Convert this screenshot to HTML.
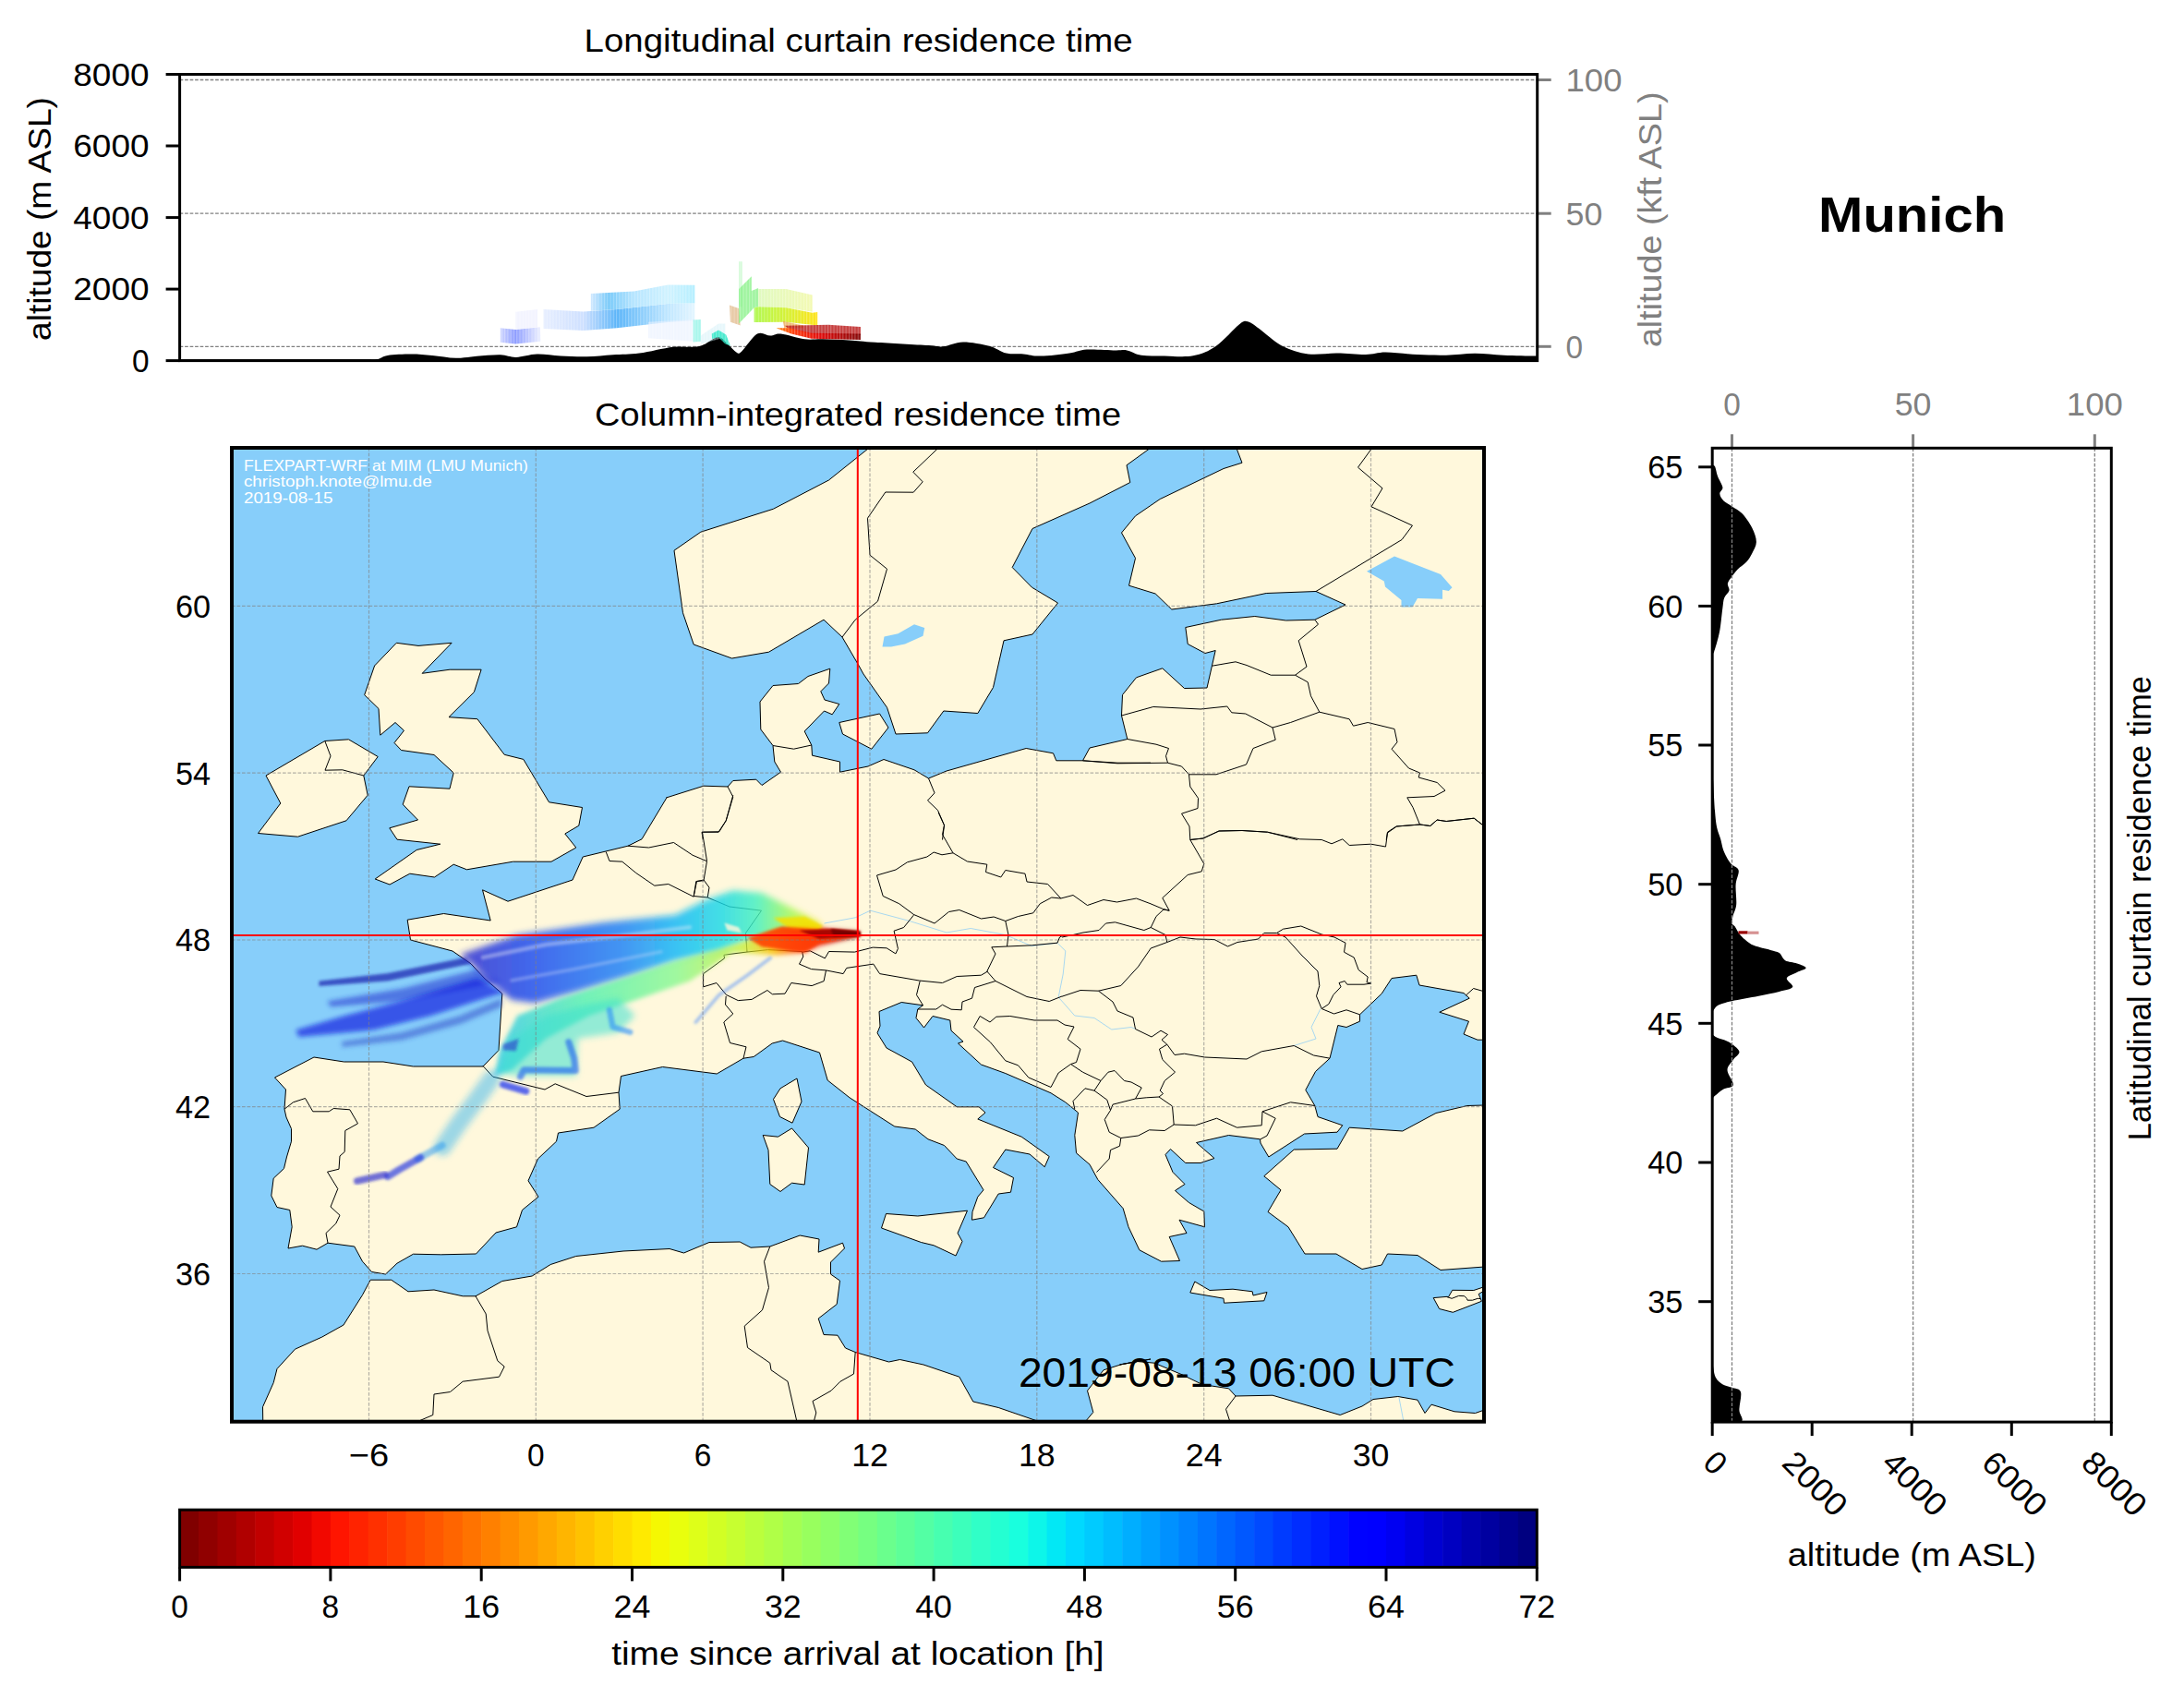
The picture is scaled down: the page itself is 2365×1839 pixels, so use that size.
<!DOCTYPE html>
<html><head><meta charset="utf-8"><style>
html,body{margin:0;padding:0;background:#fff;}
svg{display:block;font-family:"Liberation Sans", sans-serif;}
</style></head><body>
<svg width="2365" height="1839" viewBox="0 0 2365 1839" font-family='"Liberation Sans", sans-serif'>
<rect width="2365" height="1839" fill="#fff"/>
<text x="929.6" y="56.2" font-size="35.3" text-anchor="middle" fill="#000" textLength="594.0" lengthAdjust="spacingAndGlyphs" >Longitudinal curtain residence time</text>
<line x1="194.6" y1="86.5" x2="1664.7" y2="86.5" stroke="#808080" stroke-width="1.3" stroke-dasharray="3.7 1.8"/>
<line x1="194.6" y1="231.2" x2="1664.7" y2="231.2" stroke="#808080" stroke-width="1.3" stroke-dasharray="3.7 1.8"/>
<line x1="194.6" y1="375.3" x2="1664.7" y2="375.3" stroke="#808080" stroke-width="1.3" stroke-dasharray="3.7 1.8"/>
<path d="M194.6 389.5 C225.5 389.4 344.6 389.2 380.0 389.2 C415.4 389.1 400.4 389.9 407.0 389.2 C413.6 388.5 413.3 385.8 419.7 384.9 C426.1 383.9 437.2 383.5 445.3 383.5 C453.4 383.5 459.9 384.2 468.0 384.9 C476.1 385.6 485.6 387.5 493.6 387.7 C501.7 387.9 508.3 386.4 516.3 385.8 C524.3 385.2 534.7 384.1 541.8 384.3 C548.9 384.5 552.2 387.0 558.8 386.9 C565.4 386.8 573.5 383.7 581.6 383.5 C589.7 383.3 598.1 385.0 607.1 385.5 C616.1 386.0 626.0 386.5 635.5 386.3 C645.0 386.1 654.4 384.9 663.9 384.3 C673.4 383.7 681.4 384.0 692.3 382.6 C703.2 381.2 718.3 377.1 729.2 375.8 C740.1 374.5 749.6 376.8 757.6 375.0 C765.6 373.2 772.2 365.2 777.4 365.0 C782.6 364.8 785.5 370.9 788.8 373.6 C792.1 376.4 794.9 380.3 797.3 381.5 C799.7 382.7 799.2 384.0 803.0 380.7 C806.8 377.4 814.8 364.5 820.0 361.6 C825.2 358.8 829.9 363.6 834.2 363.6 C838.5 363.6 839.5 361.0 845.6 361.6 C851.8 362.2 863.5 366.4 871.1 367.3 C878.7 368.2 883.0 367.1 891.0 367.3 C899.0 367.5 909.9 367.8 919.4 368.4 C928.9 369.0 933.4 369.8 947.8 370.7 C962.2 371.6 993.4 373.3 1005.6 374.1 C1017.8 374.9 1014.9 375.9 1021.1 375.3 C1027.3 374.7 1034.6 370.5 1042.9 370.4 C1051.2 370.3 1063.2 372.7 1071.0 374.7 C1078.8 376.7 1083.4 381.1 1089.6 382.5 C1095.8 383.9 1102.1 382.9 1108.3 383.4 C1114.5 383.9 1118.7 385.8 1127.0 385.6 C1135.3 385.5 1149.8 383.7 1158.1 382.5 C1166.4 381.3 1168.5 379.0 1176.8 378.5 C1185.1 378.0 1200.6 379.2 1207.9 379.4 C1215.2 379.5 1215.7 378.5 1220.4 379.4 C1225.1 380.3 1229.2 383.7 1236.0 384.7 C1242.8 385.7 1251.6 385.5 1260.9 385.6 C1270.2 385.7 1282.7 387.1 1292.0 385.3 C1301.3 383.5 1308.6 380.4 1316.9 374.7 C1325.2 369.0 1336.1 355.8 1341.8 351.4 C1347.5 347.0 1347.6 347.5 1351.2 348.3 C1354.8 349.1 1357.4 351.6 1363.6 356.0 C1369.8 360.4 1379.7 370.1 1388.5 374.7 C1397.3 379.3 1406.7 382.1 1416.6 383.4 C1426.5 384.7 1437.3 382.4 1447.7 382.5 C1458.1 382.6 1470.0 384.2 1478.8 384.1 C1487.6 384.0 1491.2 381.6 1500.6 381.6 C1509.9 381.6 1524.0 383.6 1534.9 384.1 C1545.8 384.6 1555.6 384.9 1566.0 384.7 C1576.4 384.5 1586.7 382.8 1597.1 382.8 C1607.5 382.8 1617.4 384.2 1628.3 384.7 C1639.2 385.2 1656.4 385.5 1662.5 385.6 C1668.6 385.7 1664.3 385.5 1664.7 385.5 L1664.7 391.6 L194.6 391.6 Z" fill="#000"/>
<defs><linearGradient id="tpBlue" gradientUnits="userSpaceOnUse" x1="541.8" y1="0" x2="584.9" y2="0"><stop offset="0.000" stop-color="#c8d0ff"/><stop offset="0.383" stop-color="#7a8cff"/><stop offset="1.000" stop-color="#e8ecff"/></linearGradient></defs>
<defs><linearGradient id="tpLB" gradientUnits="userSpaceOnUse" x1="588.5" y1="0" x2="752.5" y2="0"><stop offset="0.000" stop-color="#e4ecff"/><stop offset="0.263" stop-color="#c8dcff"/><stop offset="0.486" stop-color="#48acf8"/><stop offset="0.821" stop-color="#b8e4ff"/><stop offset="1.000" stop-color="#e0f4ff"/></linearGradient></defs>
<defs><linearGradient id="tpCy" gradientUnits="userSpaceOnUse" x1="639.8" y1="0" x2="752.5" y2="0"><stop offset="0.000" stop-color="#c8e4ff"/><stop offset="0.171" stop-color="#60c0f8"/><stop offset="0.415" stop-color="#a8e0ff"/><stop offset="0.740" stop-color="#c8f0ff"/><stop offset="1.000" stop-color="#a8ecff"/></linearGradient></defs>
<defs><linearGradient id="tpYG1" gradientUnits="userSpaceOnUse" x1="821.1" y1="0" x2="879.7" y2="0"><stop offset="0.000" stop-color="#d8f8b0"/><stop offset="1.000" stop-color="#f0f8a0"/></linearGradient></defs>
<defs><linearGradient id="tpYG2" gradientUnits="userSpaceOnUse" x1="816.6" y1="0" x2="885.2" y2="0"><stop offset="0.000" stop-color="#a8f840"/><stop offset="0.507" stop-color="#d0f020"/><stop offset="1.000" stop-color="#ffe000"/></linearGradient></defs>
<defs><linearGradient id="tpRed" gradientUnits="userSpaceOnUse" x1="840.4" y1="0" x2="931.9" y2="0"><stop offset="0.000" stop-color="#ff8000"/><stop offset="0.220" stop-color="#ff3000"/><stop offset="0.520" stop-color="#e00000"/><stop offset="1.000" stop-color="#800000"/></linearGradient></defs>
<defs><pattern id="bars" patternUnits="userSpaceOnUse" width="3.27" height="20" x="0" y="0"><rect x="0" y="0" width="3.27" height="20" fill="#fff"/><rect x="0" y="0" width="1.1" height="20" fill="#000" fill-opacity="0.28"/></pattern><mask id="barmask" maskUnits="userSpaceOnUse" x="500" y="260" width="480" height="140"><rect x="500" y="260" width="480" height="140" fill="url(#bars)"/></mask></defs>
<g mask="url(#barmask)">
<path d="M541.8 355.2 L558.3 357.0 L584.9 354.2 L585.4 369.8 L558.3 372.6 L541.8 370.7 Z" fill="url(#tpBlue)" fill-opacity="0.85"/>
<path d="M558.3 337.8 L582.1 335.0 L582.1 354.2 L558.3 357.0 Z" fill="#eef0ff" fill-opacity="0.7"/>
<path d="M588.5 335.0 L631.6 337.4 L668.2 335.0 L723.2 329.0 L752.5 328.2 L752.5 346.9 L723.2 349.1 L668.2 355.2 L631.6 357.9 L588.5 356.1 Z" fill="url(#tpLB)" fill-opacity="0.9"/>
<path d="M639.8 318.0 L686.5 315.4 L723.2 308.5 L752.5 308.8 L752.5 328.2 L723.2 329.0 L668.2 335.0 L639.8 336.8 Z" fill="url(#tpCy)" fill-opacity="0.85"/>
<path d="M702.1 348.8 L750.6 346.0 L750.6 369.8 L702.1 366.2 Z" fill="#e8f0ff" fill-opacity="0.6"/>
<path d="M750.6 346.6 L758.9 346.0 L758.9 369.8 L750.6 370.4 Z" fill="#70f0e0" fill-opacity="0.6"/>
<path d="M758.9 363.4 L778.1 350.6 L785.4 350.6 L785.4 365.2 L758.9 372.6 Z" fill="#d0f0f8" fill-opacity="0.5"/>
<path d="M770.8 361.6 L778.1 357.5 L786.3 362.5 L790.9 374.4 L785.4 372.6 L778.1 365.2 L771.1 367.1 Z" fill="#30e8c8" fill-opacity="0.85"/>
<path d="M800.1 283.2 L803.7 283.2 L803.7 332.3 L800.1 332.3 Z" fill="#c0f8c8" fill-opacity="0.7"/>
<path d="M790.0 330.4 L800.1 334.1 L801.9 352.4 L790.9 348.8 Z" fill="#e0b888" fill-opacity="0.75"/>
<path d="M800.1 313.0 L813.8 299.3 L813.8 314.9 L821.1 312.1 L821.1 332.3 L816.6 333.2 L800.1 350.6 L800.1 332.3 Z" fill="#80f080" fill-opacity="0.75"/>
<path d="M821.1 313.0 L851.4 313.0 L879.7 319.5 L879.7 337.8 L851.4 333.2 L821.1 332.3 Z" fill="url(#tpYG1)" fill-opacity="0.8"/>
<path d="M816.6 333.2 L821.1 332.3 L851.4 333.2 L879.7 338.7 L885.2 338.1 L885.2 352.4 L851.4 348.8 L816.6 349.1 Z" fill="url(#tpYG2)" fill-opacity="0.9"/>
<path d="M847.7 347.8 L869.7 352.4 L869.7 355.2 L849.5 356.1 Z" fill="#e8a040" fill-opacity="0.7"/>
<path d="M849.5 352.8 L897.1 351.7 L931.9 353.9 L931.9 363.0 L878.8 362.1 L855.0 356.4 Z" fill="#b81010" fill-opacity="0.8"/>
<path d="M840.4 355.2 L855.0 355.3 L878.8 360.8 L931.9 361.6 L931.9 368.0 L878.8 366.7 L856.8 361.6 Z" fill="url(#tpRed)" fill-opacity="0.95"/>
</g>
<line x1="179.6" y1="390.6" x2="194.6" y2="390.6" stroke="#000" stroke-width="3"/>
<text x="161.5" y="402.9" font-size="35.3" text-anchor="end" fill="#000" textLength="18.6" lengthAdjust="spacingAndGlyphs" >0</text>
<line x1="179.6" y1="313.1" x2="194.6" y2="313.1" stroke="#000" stroke-width="3"/>
<text x="161.5" y="325.4" font-size="35.3" text-anchor="end" fill="#000" textLength="82.2" lengthAdjust="spacingAndGlyphs" >2000</text>
<line x1="179.6" y1="235.6" x2="194.6" y2="235.6" stroke="#000" stroke-width="3"/>
<text x="161.5" y="247.9" font-size="35.3" text-anchor="end" fill="#000" textLength="82.2" lengthAdjust="spacingAndGlyphs" >4000</text>
<line x1="179.6" y1="158.0" x2="194.6" y2="158.0" stroke="#000" stroke-width="3"/>
<text x="161.5" y="170.3" font-size="35.3" text-anchor="end" fill="#000" textLength="82.2" lengthAdjust="spacingAndGlyphs" >6000</text>
<line x1="179.6" y1="80.5" x2="194.6" y2="80.5" stroke="#000" stroke-width="3"/>
<text x="161.5" y="92.8" font-size="35.3" text-anchor="end" fill="#000" textLength="82.2" lengthAdjust="spacingAndGlyphs" >8000</text>
<line x1="1664.7" y1="375.3" x2="1679.7" y2="375.3" stroke="#808080" stroke-width="3"/>
<text x="1695.5" y="387.6" font-size="35.3" text-anchor="start" fill="#808080" textLength="18.6" lengthAdjust="spacingAndGlyphs" >0</text>
<line x1="1664.7" y1="231.2" x2="1679.7" y2="231.2" stroke="#808080" stroke-width="3"/>
<text x="1695.5" y="243.5" font-size="35.3" text-anchor="start" fill="#808080" textLength="39.8" lengthAdjust="spacingAndGlyphs" >50</text>
<line x1="1664.7" y1="86.5" x2="1679.7" y2="86.5" stroke="#808080" stroke-width="3"/>
<text x="1695.5" y="98.8" font-size="35.3" text-anchor="start" fill="#808080" textLength="61.0" lengthAdjust="spacingAndGlyphs" >100</text>
<rect x="194.6" y="80.5" width="1470.1" height="310.1" fill="none" stroke="#000" stroke-width="3"/>
<text x="55.3" y="237.0" font-size="35.3" text-anchor="middle" fill="#000" textLength="263.8" lengthAdjust="spacingAndGlyphs" transform="rotate(-90 55.3 237.0)" >altitude (m ASL)</text>
<text x="1799.0" y="237.8" font-size="35.3" text-anchor="middle" fill="#808080" textLength="276.6" lengthAdjust="spacingAndGlyphs" transform="rotate(-90 1799.0 237.8)" >altitude (kft ASL)</text>
<text x="2070.6" y="250.9" font-size="52.8" text-anchor="middle" fill="#000" font-weight="bold" textLength="203.0" lengthAdjust="spacingAndGlyphs" >Munich</text>
<text x="929.1" y="461.2" font-size="35.3" text-anchor="middle" fill="#000" textLength="570.0" lengthAdjust="spacingAndGlyphs" >Column-integrated residence time</text>
<defs><clipPath id="mapclip"><rect x="251.0" y="485.0" width="1356.0" height="1054.7"/></clipPath></defs>
<g clip-path="url(#mapclip)">
<rect x="251.0" y="485.0" width="1356.0" height="1054.7" fill="#87cefa"/>
<path d="M351.8 802.5 L377.5 800.8 L409.2 819.5 L393.8 840.0 L398.2 861.2 L375.0 888.8 L322.5 906.2 L279.5 902.5 L303.8 870.0 L288.0 840.0 Z" fill="#fff8dc" stroke="#000" stroke-width="1.0" stroke-linejoin="round"/>
<path d="M429.3 696.3 L453.0 699.4 L489.1 696.3 L457.2 729.3 L487.1 725.2 L521.1 725.2 L513.4 749.5 L486.0 776.7 L516.9 778.7 L546.2 817.3 L566.8 822.4 L594.5 868.8 L630.5 874.5 L626.8 894.2 L611.8 903.0 L623.8 918.0 L597.0 933.2 L555.5 933.2 L505.5 941.8 L491.2 936.2 L470.5 950.0 L443.8 946.2 L422.0 958.0 L406.2 952.0 L451.2 920.5 L476.8 914.2 L430.0 909.2 L421.8 896.8 L452.5 888.0 L436.2 871.2 L443.0 851.8 L487.0 854.2 L491.2 837.0 L470.0 817.5 L434.5 812.5 L427.0 804.5 L437.5 791.2 L428.0 782.5 L411.8 796.2 L410.0 767.5 L394.7 752.6 L405.6 721.0 Z" fill="#fff8dc" stroke="#000" stroke-width="1.0" stroke-linejoin="round"/>
<path d="M908.8 782.5 L952.5 773.0 L962.0 788.0 L943.8 811.2 L912.5 795.0 Z" fill="#fff8dc" stroke="#000" stroke-width="1.0" stroke-linejoin="round"/>
<path d="M863.0 1168.0 L868.0 1193.0 L858.0 1216.2 L844.5 1209.5 L837.5 1190.5 L845.0 1178.8 Z" fill="#fff8dc" stroke="#000" stroke-width="1.0" stroke-linejoin="round"/>
<path d="M857.5 1222.0 L875.5 1243.0 L871.2 1283.0 L857.5 1281.2 L845.0 1290.5 L833.8 1282.5 L832.0 1245.5 L826.2 1229.5 L842.5 1231.2 Z" fill="#fff8dc" stroke="#000" stroke-width="1.0" stroke-linejoin="round"/>
<path d="M959.5 1314.5 L993.8 1317.0 L1047.5 1311.2 L1037.0 1335.5 L1042.0 1344.5 L1035.0 1360.0 L1011.2 1348.8 L997.5 1345.5 L954.5 1330.0 Z" fill="#fff8dc" stroke="#000" stroke-width="1.0" stroke-linejoin="round"/>
<path d="M1293.8 1388.0 L1310.0 1397.5 L1335.0 1396.2 L1356.2 1398.8 L1357.0 1403.0 L1372.0 1399.5 L1368.8 1408.8 L1325.5 1411.2 L1325.0 1406.2 L1288.8 1400.0 Z" fill="#fff8dc" stroke="#000" stroke-width="1.0" stroke-linejoin="round"/>
<path d="M1552.2 1405.6 L1566.3 1404.4 L1568.5 1404.7 L1572.7 1397.3 L1595.8 1397.5 L1605.1 1394.4 L1607.3 1393.8 L1607.3 1399.2 L1605.1 1399.2 L1601.2 1401.5 L1603.3 1406.6 L1604.4 1409.3 L1573.3 1421.3 L1558.6 1417.5 Z" fill="#fff8dc" stroke="#000" stroke-width="1.0" stroke-linejoin="round"/>
<path d="M941.2 480.0 L941.2 485.0 L897.5 520.0 L837.5 551.2 L758.8 576.2 L730.0 596.2 L739.5 663.8 L751.2 698.0 L792.5 713.0 L832.5 706.2 L892.0 671.2 L912.0 690.0 L928.8 718.8 L935.0 730.0 L960.5 766.2 L970.0 795.0 L1004.5 793.8 L1021.8 770.0 L1058.8 772.5 L1075.5 744.5 L1087.0 693.8 L1118.0 687.0 L1145.5 653.0 L1117.5 636.2 L1096.2 614.5 L1118.0 572.5 L1180.0 545.0 L1223.8 522.5 L1220.0 503.8 L1246.0 485.0 L1246.0 480.0 Z" fill="#fff8dc" stroke="#000" stroke-width="1.0" stroke-linejoin="round"/>
<path d="M1607.5 1197.0 L1588.8 1197.5 L1555.0 1205.5 L1518.8 1225.0 L1461.2 1221.2 L1448.0 1244.2 L1401.2 1245.0 L1368.8 1273.8 L1387.0 1288.8 L1373.0 1312.5 L1395.0 1328.8 L1413.0 1358.0 L1447.0 1358.0 L1475.0 1374.5 L1496.2 1370.0 L1502.5 1358.0 L1535.0 1359.5 L1560.0 1375.5 L1607.5 1372.0 L1625.0 1372.0 L1625.0 1250.0 Z" fill="#fff8dc" stroke="#000" stroke-width="1.0" stroke-linejoin="round"/>
<path d="M285.0 1555.0 L284.5 1523.8 L296.2 1497.5 L300.0 1482.5 L319.5 1461.2 L348.8 1448.0 L372.0 1435.0 L392.5 1402.5 L401.2 1386.2 L423.8 1386.2 L442.0 1398.8 L470.0 1397.0 L501.2 1403.8 L515.0 1403.8 L543.8 1387.5 L576.2 1382.0 L596.2 1369.5 L623.8 1360.5 L675.0 1355.0 L725.0 1352.5 L740.5 1357.0 L768.0 1345.5 L801.2 1345.0 L813.0 1351.2 L833.8 1350.0 L866.2 1338.0 L887.0 1342.0 L886.2 1356.2 L912.5 1346.2 L914.5 1352.0 L899.5 1367.0 L899.5 1380.0 L909.5 1387.0 L906.2 1412.5 L886.2 1428.0 L892.0 1445.5 L907.0 1446.2 L915.5 1460.0 L926.2 1464.5 L962.5 1475.0 L974.5 1472.5 L1000.0 1478.0 L1038.8 1491.2 L1053.8 1518.0 L1081.2 1524.5 L1126.2 1540.0 L1175.0 1540.0 L1183.8 1529.5 L1177.5 1506.2 L1195.0 1483.8 L1215.0 1477.5 L1246.0 1472.0 L1212.5 1478.0 L1231.2 1474.5 L1250.0 1476.2 L1280.0 1488.8 L1302.0 1499.5 L1330.5 1503.8 L1338.0 1512.0 L1378.0 1511.2 L1451.2 1532.5 L1475.0 1523.0 L1487.0 1515.5 L1513.8 1512.5 L1535.0 1516.2 L1543.0 1530.5 L1550.0 1521.2 L1575.0 1528.8 L1597.5 1530.5 L1607.5 1527.0 L1625.0 1527.0 L1625.0 1555.0 Z" fill="#fff8dc" stroke="#000" stroke-width="1.0" stroke-linejoin="round"/>
<path d="M1650.0 435.0 L1338.8 480.0 L1338.8 485.0 L1345.0 501.2 L1325.0 507.5 L1256.2 540.5 L1229.5 558.8 L1214.5 577.0 L1229.5 604.5 L1222.5 634.2 L1251.2 643.0 L1268.8 660.0 L1317.5 653.8 L1371.2 642.5 L1425.0 640.5 L1457.0 655.0 L1423.8 671.2 L1392.5 672.0 L1358.8 667.5 L1322.5 671.2 L1283.8 679.5 L1286.2 697.5 L1305.0 707.5 L1316.2 704.5 L1307.0 745.0 L1282.5 745.5 L1258.8 723.8 L1230.5 733.8 L1215.5 752.5 L1214.5 775.0 L1220.8 800.5 L1180.0 810.0 L1172.5 823.8 L1143.8 823.8 L1140.5 815.8 L1111.2 810.5 L1025.0 835.0 L1005.5 843.0 L990.0 833.8 L957.0 822.5 L940.0 830.0 L909.5 836.2 L909.5 825.0 L879.5 818.2 L878.8 807.0 L871.2 792.0 L892.5 770.0 L901.2 773.8 L908.8 762.5 L893.0 758.0 L888.8 748.8 L897.5 740.0 L898.8 724.2 L875.0 732.5 L864.5 740.5 L837.0 742.5 L823.0 760.0 L823.8 790.0 L837.0 807.5 L838.8 825.0 L845.5 836.2 L825.0 850.5 L818.8 844.2 L793.8 845.5 L788.0 852.0 L762.0 851.2 L722.0 863.8 L722.5 863.0 L695.0 908.8 L680.0 916.2 L631.2 928.0 L620.0 953.0 L550.0 976.2 L522.5 963.8 L531.2 997.0 L480.5 989.5 L441.2 996.2 L444.5 1018.0 L490.0 1030.0 L510.0 1043.8 L525.0 1060.0 L543.8 1076.2 L540.0 1137.5 L523.0 1155.0 L447.5 1155.0 L415.0 1150.0 L372.5 1150.0 L340.0 1145.0 L297.5 1167.0 L309.5 1180.0 L308.0 1201.2 L310.0 1210.0 L315.5 1222.5 L315.5 1236.2 L310.5 1253.0 L307.5 1265.5 L296.2 1276.2 L293.8 1295.0 L300.0 1307.5 L313.8 1310.5 L316.2 1328.8 L312.0 1352.0 L327.5 1349.2 L343.0 1353.2 L355.0 1346.2 L383.8 1350.0 L392.5 1366.2 L402.5 1377.5 L417.5 1380.0 L430.0 1368.2 L447.5 1358.2 L477.5 1358.8 L515.5 1358.0 L537.0 1335.0 L559.5 1328.8 L565.5 1310.5 L583.0 1296.2 L572.0 1278.8 L582.5 1255.0 L602.5 1236.2 L604.5 1227.0 L643.0 1221.2 L671.2 1201.2 L670.0 1183.2 L672.5 1165.5 L717.5 1155.5 L776.2 1163.0 L805.0 1146.2 L816.2 1144.5 L836.2 1130.0 L847.5 1127.0 L887.5 1140.0 L896.2 1170.0 L920.0 1188.8 L968.8 1220.0 L991.2 1223.0 L1005.0 1233.8 L1022.5 1240.5 L1036.2 1255.0 L1046.2 1258.0 L1065.0 1288.8 L1058.8 1296.2 L1053.0 1312.5 L1052.5 1321.2 L1065.5 1318.8 L1081.2 1293.0 L1094.5 1291.2 L1097.5 1275.5 L1075.5 1264.5 L1088.8 1245.0 L1115.0 1250.0 L1131.2 1263.8 L1136.2 1252.5 L1106.2 1231.2 L1058.8 1212.0 L1067.0 1205.0 L1060.0 1198.8 L1036.2 1198.8 L1002.5 1175.0 L987.5 1150.0 L960.0 1135.0 L950.0 1118.8 L953.0 1111.2 L952.0 1095.5 L976.2 1085.5 L999.5 1088.8 L993.8 1093.0 L992.0 1102.5 L1000.5 1113.0 L1010.0 1100.5 L1028.8 1105.0 L1030.0 1116.2 L1043.0 1128.0 L1037.5 1130.0 L1062.5 1153.0 L1088.8 1162.5 L1138.0 1183.8 L1153.8 1193.8 L1167.5 1205.0 L1163.8 1229.5 L1165.5 1248.8 L1180.0 1261.2 L1188.8 1277.5 L1216.2 1308.8 L1222.0 1328.8 L1233.8 1353.8 L1257.5 1366.2 L1277.5 1365.5 L1266.2 1339.5 L1285.0 1335.5 L1277.0 1321.2 L1304.5 1328.8 L1303.8 1312.0 L1287.5 1302.5 L1272.5 1289.5 L1283.0 1282.5 L1270.0 1269.5 L1262.0 1250.5 L1267.5 1244.5 L1283.8 1259.5 L1300.0 1259.5 L1315.0 1254.5 L1295.5 1237.5 L1330.5 1229.5 L1364.5 1233.8 L1365.0 1238.0 L1373.8 1253.0 L1412.5 1228.0 L1448.0 1226.2 L1453.8 1218.8 L1427.0 1209.5 L1423.8 1197.5 L1413.8 1180.5 L1424.5 1160.5 L1440.0 1146.2 L1448.8 1110.5 L1458.0 1112.5 L1472.5 1106.2 L1472.5 1098.8 L1496.2 1076.2 L1507.0 1059.5 L1533.8 1056.2 L1537.0 1067.0 L1585.0 1075.5 L1591.2 1081.2 L1558.8 1096.2 L1590.5 1106.2 L1585.0 1120.0 L1600.0 1126.2 L1607.5 1126.2 L1650.0 1126.2 Z" fill="#fff8dc" stroke="#000" stroke-width="1.0" stroke-linejoin="round"/>
<path d="M957.5 689.5 L972.5 686.2 L990.0 676.2 L1001.2 680.0 L999.5 688.8 L980.0 697.5 L965.0 700.5 L955.5 700.5 Z" fill="#87cefa" stroke="none"/>
<path d="M1480.0 618.8 L1510.0 602.5 L1560.0 622.0 L1572.5 636.2 L1568.8 640.0 L1562.0 638.8 L1562.0 648.8 L1535.0 648.0 L1529.5 657.5 L1517.5 657.5 L1517.5 650.0 L1500.0 635.5 L1498.8 629.5 Z" fill="#87cefa" stroke="none"/>
<path d="M892.5 1000.0 L926.2 993.8 L942.5 986.2 L985.0 997.5 L1025.0 1010.0 L1051.2 1005.5 L1088.8 1012.5 L1117.0 1024.5 L1145.0 1021.2 L1153.8 1030.0 L1151.2 1055.0 L1146.2 1080.0 L1163.8 1100.0" fill="none" stroke="#a9d8f0" stroke-width="1"/>
<path d="M1401.2 1132.5 L1425.0 1125.0 L1420.0 1112.5 L1430.0 1092.5" fill="none" stroke="#a9d8f0" stroke-width="1"/>
<path d="M1163.8 1100.0 L1185.0 1102.5 L1203.8 1115.0 L1225.0 1112.5 L1229.5 1114.5" fill="none" stroke="#a9d8f0" stroke-width="1"/>
<path d="M1515.0 1513.8 L1520.0 1540.0" fill="none" stroke="#a9d8f0" stroke-width="1"/>
<path d="M351.8 802.5 L358.0 818.8 L352.0 834.2 L370.8 833.8 L393.8 840.0" fill="none" stroke="#000" stroke-width="1.0" stroke-linejoin="round"/>
<path d="M1015.0 486.2 L988.8 511.2 L999.2 521.8 L989.2 533.2 L958.8 533.0 L939.5 561.2 L942.0 601.2 L960.5 616.2 L950.5 651.2 L926.2 671.2 L912.0 690.0" fill="none" stroke="#000" stroke-width="1.0" stroke-linejoin="round"/>
<path d="M837.0 807.5 L859.5 811.2 L878.8 807.0" fill="none" stroke="#000" stroke-width="1.0" stroke-linejoin="round"/>
<path d="M1005.5 843.0 L1012.0 858.8 L1004.5 867.0 L1015.5 877.5 L1022.5 893.8 L1020.5 909.5" fill="none" stroke="#000" stroke-width="1.0" stroke-linejoin="round"/>
<path d="M1172.5 823.8 L1210.0 826.2 L1246.0 826.2" fill="none" stroke="#000" stroke-width="1.0" stroke-linejoin="round"/>
<path d="M788.0 852.0 L793.8 863.0 L786.2 888.8 L778.8 900.8 L760.0 901.2 L761.2 909.5" fill="none" stroke="#000" stroke-width="1.0" stroke-linejoin="round"/>
<path d="M1485.0 486.2 L1470.5 506.2 L1497.0 528.8 L1485.0 548.8 L1529.5 569.2 L1518.0 584.5 L1425.0 640.5" fill="none" stroke="#000" stroke-width="1.0" stroke-linejoin="round"/>
<path d="M1423.8 671.2 L1427.5 676.2 L1406.2 693.8 L1415.0 722.0 L1402.5 731.2" fill="none" stroke="#000" stroke-width="1.0" stroke-linejoin="round"/>
<path d="M1312.5 721.2 L1338.0 716.8 L1350.0 720.5 L1376.2 731.2 L1402.5 731.2" fill="none" stroke="#000" stroke-width="1.0" stroke-linejoin="round"/>
<path d="M1402.5 731.2 L1416.2 738.8 L1419.5 753.8 L1428.8 771.2" fill="none" stroke="#000" stroke-width="1.0" stroke-linejoin="round"/>
<path d="M1214.5 775.0 L1248.8 765.5 L1300.0 768.0 L1328.8 765.0 L1333.8 771.8 L1348.8 773.0 L1378.0 788.0" fill="none" stroke="#000" stroke-width="1.0" stroke-linejoin="round"/>
<path d="M1378.0 788.0 L1397.5 782.5 L1428.8 771.2" fill="none" stroke="#000" stroke-width="1.0" stroke-linejoin="round"/>
<path d="M1378.0 788.0 L1381.2 801.2 L1357.0 810.5 L1349.5 828.0 L1317.0 838.8 L1287.5 838.8" fill="none" stroke="#000" stroke-width="1.0" stroke-linejoin="round"/>
<path d="M1220.8 800.5 L1252.0 806.2 L1265.5 810.5 L1262.5 818.8 L1264.5 826.2" fill="none" stroke="#000" stroke-width="1.0" stroke-linejoin="round"/>
<path d="M1172.5 823.8 L1210.0 826.8 L1264.5 826.2 L1279.5 830.0 L1287.5 838.8" fill="none" stroke="#000" stroke-width="1.0" stroke-linejoin="round"/>
<path d="M1287.5 838.8 L1288.8 852.0 L1297.5 864.5 L1297.0 875.5 L1279.5 881.2 L1288.0 895.0 L1288.8 909.5" fill="none" stroke="#000" stroke-width="1.0" stroke-linejoin="round"/>
<path d="M1428.8 771.2 L1461.2 778.8 L1465.5 786.2 L1481.2 782.5 L1510.0 789.5 L1513.0 803.8 L1507.0 811.2 L1525.5 832.0 L1537.5 837.0 L1536.2 842.0 L1556.2 847.5 L1565.0 856.2 L1553.0 862.5 L1523.8 863.8 L1530.0 874.5 L1537.5 893.0" fill="none" stroke="#000" stroke-width="1.0" stroke-linejoin="round"/>
<path d="M1288.8 909.5 L1302.5 908.0 L1320.0 900.0 L1345.0 899.5 L1372.5 901.2 L1405.0 909.5" fill="none" stroke="#000" stroke-width="1.0" stroke-linejoin="round"/>
<path d="M1501.2 909.5 L1502.5 901.2 L1512.0 895.0 L1537.5 893.0" fill="none" stroke="#000" stroke-width="1.0" stroke-linejoin="round"/>
<path d="M1537.5 893.0 L1548.8 894.5 L1556.2 888.0 L1566.2 889.5 L1596.2 886.2 L1607.5 895.0" fill="none" stroke="#000" stroke-width="1.0" stroke-linejoin="round"/>
<path d="M751.2 970.5 L754.5 954.5 L762.0 953.0 L768.0 961.2 L766.2 972.0 L751.2 970.5" fill="none" stroke="#000" stroke-width="1.0" stroke-linejoin="round"/>
<path d="M766.2 972.0 L790.0 982.0 L824.5 986.2 L807.4 1010.7 L809.0 1031.0" fill="none" stroke="#000" stroke-width="1.0" stroke-linejoin="round"/>
<path d="M761.6 1068.8 L761.6 1054.6 L784.5 1037.9 L783.9 1034.2 L809.0 1031.0 L831.5 1028.6 L868.6 1030.5 L869.8 1036.0 L865.5 1044.1 L878.5 1049.6 L894.5 1050.9 L892.1 1062.6 L879.1 1067.6 L856.8 1064.5 L850.0 1076.2 L836.4 1076.8 L830.9 1072.5 L814.2 1082.4 L799.3 1083.6 L786.4 1077.4 L775.9 1064.5 L761.6 1068.8" fill="none" stroke="#000" stroke-width="1.0" stroke-linejoin="round"/>
<path d="M868.6 1031.1 L877.2 1029.8 L893.3 1037.9 L897.6 1030.5 L925.4 1031.1 L945.2 1026.1 L960.1 1026.8 L969.9 1032.9 L972.4 1027.4 L968.1 1008.2 L978.6 1004.5 L989.1 991.5 L989.5 990.5" fill="none" stroke="#000" stroke-width="1.0" stroke-linejoin="round"/>
<path d="M894.5 1050.9 L913.1 1054.6 L916.8 1048.4 L945.8 1044.1 L952.6 1054.6 L995.3 1062.0 L1020.5 1064.5 L1036.2 1057.5 L1062.5 1056.2 L1069.5 1052.0" fill="none" stroke="#000" stroke-width="1.0" stroke-linejoin="round"/>
<path d="M996.2 1062.5 L992.5 1077.5 L999.5 1088.8" fill="none" stroke="#000" stroke-width="1.0" stroke-linejoin="round"/>
<path d="M786.2 1078.8 L785.5 1088.0 L793.8 1098.0 L783.8 1107.0 L790.5 1129.5 L808.0 1133.8 L805.0 1146.2" fill="none" stroke="#000" stroke-width="1.0" stroke-linejoin="round"/>
<path d="M1032.0 923.8 L1020.0 925.8 L1011.2 923.0 L1003.8 928.0 L982.5 933.8 L970.0 942.0 L949.5 948.0 L956.2 970.5 L973.8 978.8 L989.5 990.5" fill="none" stroke="#000" stroke-width="1.0" stroke-linejoin="round"/>
<path d="M1016.2 880.0 L1022.5 893.8 L1020.5 903.8 L1032.0 923.8" fill="none" stroke="#000" stroke-width="1.0" stroke-linejoin="round"/>
<path d="M1032.0 923.8 L1047.5 933.0 L1068.8 936.2 L1067.5 944.5 L1083.8 950.0 L1088.8 942.5 L1110.0 946.2 L1112.0 955.0 L1134.5 957.5 L1148.8 973.0" fill="none" stroke="#000" stroke-width="1.0" stroke-linejoin="round"/>
<path d="M989.5 990.5 L1012.0 1000.0 L1027.5 987.5 L1038.8 985.5 L1062.5 995.0 L1076.2 993.0 L1088.8 997.5" fill="none" stroke="#000" stroke-width="1.0" stroke-linejoin="round"/>
<path d="M1088.8 997.5 L1102.5 992.5 L1118.8 988.8 L1126.2 978.8 L1138.8 972.0 L1148.8 973.0" fill="none" stroke="#000" stroke-width="1.0" stroke-linejoin="round"/>
<path d="M1148.8 973.0 L1162.0 969.5 L1177.5 980.5 L1195.0 974.5 L1209.5 977.0 L1230.5 973.0 L1246.0 978.8 L1259.5 984.5 L1266.2 986.2" fill="none" stroke="#000" stroke-width="1.0" stroke-linejoin="round"/>
<path d="M1088.8 997.5 L1092.0 1012.5 L1090.5 1025.0 L1073.8 1025.8 L1078.0 1033.0 L1068.8 1052.0 L1078.0 1062.5" fill="none" stroke="#000" stroke-width="1.0" stroke-linejoin="round"/>
<path d="M1090.5 1025.0 L1117.5 1023.8 L1145.0 1021.2 L1147.5 1015.0 L1150.0 1013.8" fill="none" stroke="#000" stroke-width="1.0" stroke-linejoin="round"/>
<path d="M1078.0 1062.5 L1112.0 1079.5 L1136.2 1084.5 L1150.0 1079.0" fill="none" stroke="#000" stroke-width="1.0" stroke-linejoin="round"/>
<path d="M993.8 1093.0 L1013.8 1093.0 L1020.5 1088.2 L1030.0 1093.2 L1041.2 1093.8 L1042.0 1085.0 L1052.5 1081.2 L1055.5 1069.5 L1078.0 1062.5" fill="none" stroke="#000" stroke-width="1.0" stroke-linejoin="round"/>
<path d="M1061.2 1100.5 L1072.0 1107.0 L1078.8 1101.2 L1093.8 1100.5 L1120.0 1105.0 L1145.0 1105.0 L1153.0 1110.0 L1163.0 1112.0" fill="none" stroke="#000" stroke-width="1.0" stroke-linejoin="round"/>
<path d="M1061.2 1100.5 L1054.5 1112.5 L1072.5 1128.8 L1088.8 1148.8 L1102.5 1153.8 L1113.8 1167.0 L1138.0 1177.5" fill="none" stroke="#000" stroke-width="1.0" stroke-linejoin="round"/>
<path d="M1163.0 1112.0 L1156.2 1125.5 L1170.0 1136.2 L1165.5 1150.5 L1159.5 1152.5 L1146.2 1162.0 L1138.0 1177.5" fill="none" stroke="#000" stroke-width="1.0" stroke-linejoin="round"/>
<path d="M833.8 1350.0 L827.5 1366.2 L832.5 1394.5 L825.5 1418.8 L806.2 1436.2 L809.5 1459.5 L833.8 1476.2 L835.0 1483.8 L853.0 1496.2 L863.0 1540.0" fill="none" stroke="#000" stroke-width="1.0" stroke-linejoin="round"/>
<path d="M926.2 1464.5 L924.5 1488.0 L910.0 1496.2 L900.0 1506.2 L880.0 1517.5 L883.8 1530.0 L881.2 1540.0" fill="none" stroke="#000" stroke-width="1.0" stroke-linejoin="round"/>
<path d="M515.0 1403.8 L526.2 1423.0 L528.0 1441.2 L538.8 1473.8 L546.2 1480.0 L540.5 1491.2 L501.2 1496.2 L487.5 1507.5 L470.0 1510.0 L468.8 1532.5 L451.2 1540.0" fill="none" stroke="#000" stroke-width="1.0" stroke-linejoin="round"/>
<path d="M308.0 1201.2 L317.5 1193.8 L330.5 1189.5 L338.8 1203.8 L356.2 1203.8 L361.2 1200.5 L378.8 1201.8 L387.5 1216.8 L373.8 1224.5 L373.2 1247.5 L368.0 1252.0 L367.0 1266.2 L354.5 1269.2 L365.8 1287.5 L358.0 1307.0 L368.0 1316.2 L363.8 1325.0 L353.0 1335.5 L355.0 1346.2" fill="none" stroke="#000" stroke-width="1.0" stroke-linejoin="round"/>
<path d="M523.0 1154.5 L533.8 1166.2 L590.0 1180.0 L601.2 1173.8 L635.0 1187.5 L670.0 1183.2" fill="none" stroke="#000" stroke-width="1.0" stroke-linejoin="round"/>
<path d="M1288.8 909.5 L1303.8 935.5 L1301.2 943.8 L1286.2 947.5 L1258.8 972.5 L1266.2 986.2" fill="none" stroke="#000" stroke-width="1.0" stroke-linejoin="round"/>
<path d="M1288.8 909.5 L1303.0 908.0 L1320.0 900.0 L1345.0 899.5 L1372.5 901.2 L1407.5 908.8 L1431.2 909.5 L1442.0 913.8 L1453.8 908.8 L1461.2 915.5 L1484.5 914.2 L1500.5 917.0 L1502.5 902.0 L1512.5 895.0 L1538.0 893.0 L1548.8 894.5 L1556.2 888.0 L1566.2 889.5 L1596.2 886.2 L1607.5 895.0" fill="none" stroke="#000" stroke-width="1.0" stroke-linejoin="round"/>
<path d="M1266.2 986.2 L1260.0 985.0 L1252.0 992.5 L1246.2 1004.5" fill="none" stroke="#000" stroke-width="1.0" stroke-linejoin="round"/>
<path d="M1246.2 1004.5 L1238.8 1007.5 L1207.5 998.8 L1197.5 1000.0 L1190.0 1007.5 L1173.0 1010.0 L1162.0 1012.5 L1150.0 1015.0" fill="none" stroke="#000" stroke-width="1.0" stroke-linejoin="round"/>
<path d="M1246.2 1004.5 L1262.0 1012.5 L1263.8 1020.5 L1278.0 1015.0 L1295.0 1017.0 L1315.0 1017.5 L1329.5 1025.0 L1340.0 1020.5 L1362.5 1017.0 L1368.8 1010.5 L1382.5 1010.5 L1389.5 1006.2 L1408.8 1003.0 L1431.2 1012.0 L1445.0 1015.0 L1457.0 1021.2 L1455.5 1031.2 L1466.2 1037.0 L1471.2 1050.5 L1481.2 1058.0 L1480.0 1063.8 L1485.0 1065.0 L1477.0 1066.2 L1458.8 1066.2 L1456.2 1062.5 L1450.0 1064.5 L1452.0 1068.8 L1443.8 1077.5 L1438.8 1087.5 L1431.2 1092.5 L1444.5 1098.0 L1458.0 1093.8 L1472.5 1098.8" fill="none" stroke="#000" stroke-width="1.0" stroke-linejoin="round"/>
<path d="M1382.5 1010.5 L1392.0 1015.0 L1410.0 1035.0 L1427.0 1052.0 L1428.8 1067.5 L1425.5 1078.8 L1431.2 1092.5" fill="none" stroke="#000" stroke-width="1.0" stroke-linejoin="round"/>
<path d="M1263.8 1020.5 L1246.2 1027.0 L1232.5 1047.0 L1213.8 1067.5 L1189.5 1073.2 L1170.0 1072.5 L1150.0 1079.2" fill="none" stroke="#000" stroke-width="1.0" stroke-linejoin="round"/>
<path d="M1189.5 1073.2 L1205.0 1085.0 L1210.0 1095.0 L1227.0 1102.0 L1229.5 1114.5 L1247.0 1123.0 L1257.0 1116.2 L1264.5 1120.5 L1258.0 1126.2 L1263.8 1131.2" fill="none" stroke="#000" stroke-width="1.0" stroke-linejoin="round"/>
<path d="M1263.8 1131.2 L1272.0 1142.5 L1282.5 1141.2 L1304.5 1145.0 L1350.0 1147.0 L1366.2 1138.8 L1401.2 1132.5" fill="none" stroke="#000" stroke-width="1.0" stroke-linejoin="round"/>
<path d="M1401.2 1132.5 L1422.5 1143.0 L1440.0 1146.2" fill="none" stroke="#000" stroke-width="1.0" stroke-linejoin="round"/>
<path d="M1263.8 1131.2 L1255.5 1136.2 L1258.8 1147.5 L1272.5 1161.2 L1261.2 1170.5 L1256.2 1181.2 L1259.5 1184.5 L1255.0 1188.0 L1269.5 1198.0 L1271.2 1218.0" fill="none" stroke="#000" stroke-width="1.0" stroke-linejoin="round"/>
<path d="M1271.2 1218.0 L1294.5 1218.8 L1317.5 1211.2 L1339.5 1221.2 L1366.2 1218.8 L1367.0 1203.8 L1397.5 1193.8 L1423.8 1197.5" fill="none" stroke="#000" stroke-width="1.0" stroke-linejoin="round"/>
<path d="M1367.0 1203.8 L1381.2 1211.2 L1372.0 1230.0 L1365.0 1233.8" fill="none" stroke="#000" stroke-width="1.0" stroke-linejoin="round"/>
<path d="M1271.2 1218.0 L1261.2 1224.5 L1244.5 1223.8 L1232.5 1230.0 L1213.8 1232.5 L1212.5 1241.2 L1202.5 1245.5 L1201.2 1255.0 L1187.5 1269.5" fill="none" stroke="#000" stroke-width="1.0" stroke-linejoin="round"/>
<path d="M1255.0 1188.0 L1241.2 1188.8 L1229.5 1190.0 L1205.0 1196.2 L1202.5 1202.5 L1196.2 1212.5 L1201.2 1226.2 L1213.8 1232.5" fill="none" stroke="#000" stroke-width="1.0" stroke-linejoin="round"/>
<path d="M1229.5 1190.0 L1236.2 1178.0 L1225.0 1172.0 L1217.5 1170.5 L1207.0 1159.5 L1200.0 1161.2 L1192.0 1170.5 L1185.0 1181.2 L1198.8 1191.2 L1202.5 1202.5" fill="none" stroke="#000" stroke-width="1.0" stroke-linejoin="round"/>
<path d="M1185.0 1181.2 L1175.0 1178.8 L1162.0 1192.5 L1163.8 1201.2" fill="none" stroke="#000" stroke-width="1.0" stroke-linejoin="round"/>
<path d="M680.0 916.2 L702.5 918.0 L729.5 912.5 L750.0 926.2 L765.0 932.5" fill="none" stroke="#000" stroke-width="1.0" stroke-linejoin="round"/>
<path d="M656.2 922.5 L660.0 932.5 L673.8 933.2 L688.8 945.5 L708.8 959.2 L723.8 957.5 L751.2 971.2" fill="none" stroke="#000" stroke-width="1.0" stroke-linejoin="round"/>
<path d="M793.8 861.2 L786.2 888.8 L778.0 901.2 L760.5 901.2 L765.5 932.5 L762.0 953.8" fill="none" stroke="#000" stroke-width="1.0" stroke-linejoin="round"/>
<path d="M762.0 953.8 L753.8 954.5 L751.2 971.2" fill="none" stroke="#000" stroke-width="1.0" stroke-linejoin="round"/>
<path d="M1338.0 1512.0 L1327.5 1526.2 L1332.0 1540.0" fill="none" stroke="#000" stroke-width="1.0" stroke-linejoin="round"/>
<path d="M1159.5 1152.5 L1172.5 1161.2 L1192.0 1170.5" fill="none" stroke="#000" stroke-width="1.0" stroke-linejoin="round"/>
<path d="M1587.5 1077.9 L1595.6 1070.5 L1605.7 1073.4" fill="none" stroke="#000" stroke-width="1.0" stroke-linejoin="round"/>
<path d="M1566.3 1404.4 L1572.1 1406.3 L1579.7 1403.4 L1585.8 1403.7 L1588.4 1406.3 L1589.0 1408.2 L1594.5 1408.2 L1600.3 1406.3 L1603.3 1406.6" fill="none" stroke="#000" stroke-width="1.0" stroke-linejoin="round"/>
<defs><filter id="blur3" x="-30%" y="-60%" width="160%" height="220%"><feGaussianBlur stdDeviation="2.5"/></filter><filter id="blur4" x="-30%" y="-60%" width="160%" height="220%"><feGaussianBlur stdDeviation="3.5"/></filter><filter id="blur2" x="-30%" y="-60%" width="160%" height="220%"><feGaussianBlur stdDeviation="1.6"/></filter><filter id="blur1" x="-30%" y="-60%" width="160%" height="220%"><feGaussianBlur stdDeviation="0.8"/></filter><linearGradient id="gUpper" gradientUnits="userSpaceOnUse" x1="498" y1="0" x2="890" y2="0"><stop offset="0" stop-color="#2828d0"/><stop offset="0.2" stop-color="#1848f0"/><stop offset="0.45" stop-color="#1a80f8"/><stop offset="0.6" stop-color="#10b8f8"/><stop offset="0.72" stop-color="#18d8e8"/><stop offset="0.82" stop-color="#40f0c0"/><stop offset="0.92" stop-color="#a8f850"/><stop offset="1" stop-color="#f0e000"/></linearGradient><linearGradient id="gLower" gradientUnits="userSpaceOnUse" x1="535" y1="0" x2="931" y2="0"><stop offset="0" stop-color="#28c8e8"/><stop offset="0.25" stop-color="#50f0b0"/><stop offset="0.5" stop-color="#88f890"/><stop offset="0.68" stop-color="#c8f040"/><stop offset="0.76" stop-color="#f8c000"/><stop offset="0.82" stop-color="#ff5000"/><stop offset="0.88" stop-color="#f01800"/><stop offset="0.95" stop-color="#b00000"/><stop offset="1" stop-color="#780000"/></linearGradient></defs>
<g>
<path d="M345.4 1062.5 L420.1 1054.1 L504.2 1037.0 L510.4 1043.8 L420.1 1062.5 L345.4 1068.1 Z" fill="#1a24b0" fill-opacity="0.72" filter="url(#blur2)"/>
<path d="M354.7 1084.3 L435.7 1070.6 L516.6 1050.1 L543.1 1063.5 L435.7 1084.3 L357.8 1090.5 Z" fill="#2030d0" fill-opacity="0.55" filter="url(#blur3)"/>
<path d="M320.5 1115.5 L373.4 1099.9 L435.7 1083.7 L516.6 1059.4 L544.7 1075.0 L466.8 1099.9 L404.5 1115.5 L323.6 1122.9 Z" fill="#0a18e0" fill-opacity="0.68" filter="url(#blur3)"/>
<path d="M370.3 1127.9 L435.7 1117.9 L497.9 1099.9 L543.1 1081.2 L543.1 1090.5 L497.9 1109.2 L435.7 1126.4 L370.3 1134.1 Z" fill="#2840c8" fill-opacity="0.5" filter="url(#blur3)"/>
<path d="M497.9 1033.9 L560.2 1012.7 L653.6 999.0 L731.5 990.9 L762.6 975.3 L793.7 964.5 L824.9 966.9 L856.0 982.5 L887.1 999.0 L890.9 1007.4 L856.0 1012.1 L809.3 1018.9 L778.2 1030.8 L731.5 1040.7 L684.8 1055.7 L622.5 1074.4 L578.9 1086.2 L554.0 1083.1 L529.1 1061.9 L507.3 1040.7 Z" fill="url(#gUpper)" fill-opacity="0.82" filter="url(#blur4)"/>
<path d="M522.9 1037.0 L591.4 1023.0 L684.8 1012.1 L747.0 1004.3" fill="none" stroke="#e8ecf8" stroke-opacity="0.4" stroke-width="4.4" stroke-linecap="round" stroke-linejoin="round" filter="url(#blur2)"/>
<path d="M554.0 1061.9 L622.5 1049.5 L715.9 1030.8" fill="none" stroke="#d0dcf8" stroke-opacity="0.35" stroke-width="3.7" stroke-linecap="round" stroke-linejoin="round" filter="url(#blur2)"/>
<path d="M784.4 999.6 L800.0 1004.3 L803.1 1010.5 L787.5 1007.4 Z" fill="#fff8dc" fill-opacity="0.8" filter="url(#blur1)"/>
<path d="M560.2 1099.9 L606.9 1081.2 L684.8 1056.3 L731.5 1040.7 L778.2 1028.3 L809.3 1018.9 L840.4 1006.5 L871.6 1003.4 L930.7 1009.0 L930.7 1014.0 L887.1 1024.5 L871.6 1031.4 L840.4 1034.5 L793.7 1031.4 L747.0 1062.5 L684.8 1084.3 L638.1 1099.9 L591.4 1124.8 L554.0 1159.0 L535.3 1165.3 L541.5 1137.3 Z" fill="url(#gLower)" fill-opacity="0.8" filter="url(#blur3)"/>
<path d="M538.4 1162.2 L554.0 1124.8 L591.4 1099.9 L638.1 1087.4 L669.2 1081.2 L687.9 1099.9 L669.2 1118.6 L625.6 1124.8 L624.0 1165.3 L560.2 1165.3 Z" fill="#38e0d0" fill-opacity="0.55" filter="url(#blur4)"/>
<path d="M615.8 1128.6 L621.7 1146.2 L623.2 1159.5 L567.2 1158.8 L563.5 1166.1" fill="none" stroke="#2060f0" stroke-opacity="0.62" stroke-width="7.1" stroke-linecap="round" stroke-linejoin="round" filter="url(#blur2)"/>
<path d="M659.9 1093.7 L663.6 1112.3 L682.3 1117.9" fill="none" stroke="#2a90f8" stroke-opacity="0.62" stroke-width="6.2" stroke-linecap="round" stroke-linejoin="round" filter="url(#blur2)"/>
<path d="M544.7 1131.0 L561.8 1124.8 L558.7 1138.2 L544.7 1137.3 Z" fill="#2828c8" fill-opacity="0.55" filter="url(#blur2)"/>
<path d="M837.3 994.0 L871.6 992.8 L890.9 1002.7 L885.6 1009.6 L856.0 1006.5 Z" fill="#f5e000" fill-opacity="0.85" filter="url(#blur2)"/>
<path d="M809.3 1015.8 L846.7 1003.4 L887.1 1006.5 L930.7 1009.0 L930.7 1014.0 L887.1 1022.1 L871.6 1031.4 L846.7 1028.3 L824.9 1025.2 Z" fill="#ff3800" fill-opacity="0.85" filter="url(#blur2)"/>
<path d="M865.3 1007.7 L902.7 1005.9 L931.4 1008.7 L931.4 1014.3 L887.1 1016.8 Z" fill="#a00000" fill-opacity="0.9" filter="url(#blur1)"/>
<path d="M899.6 1006.5 L931.4 1009.0 L931.4 1014.0 L902.7 1014.0 Z" fill="#700000" fill-opacity="0.9" filter="url(#blur1)"/>
<path d="M532.2 1168.4 L516.6 1190.2 L497.9 1215.1 L479.3 1242.5" fill="none" stroke="#20b0f0" stroke-opacity="0.45" stroke-width="18.7" stroke-linecap="round" stroke-linejoin="round" filter="url(#blur4)"/>
<path d="M544.7 1174.6 L569.6 1181.8" fill="none" stroke="#1a30f0" stroke-opacity="0.72" stroke-width="7.5" stroke-linecap="round" stroke-linejoin="round" filter="url(#blur2)"/>
<path d="M478.9 1240.5 L452.4 1255.2" fill="none" stroke="#2898f0" stroke-opacity="0.5" stroke-width="7.4" stroke-linecap="round" stroke-linejoin="round" filter="url(#blur2)"/>
<path d="M455.3 1253.7 L431.8 1267.0 L420.0 1274.3" fill="none" stroke="#2030e0" stroke-opacity="0.65" stroke-width="7.4" stroke-linecap="round" stroke-linejoin="round" filter="url(#blur2)"/>
<path d="M386.7 1279.1 L416.9 1272.4" fill="none" stroke="#2222d0" stroke-opacity="0.65" stroke-width="7.3" stroke-linecap="round" stroke-linejoin="round" filter="url(#blur2)"/>
<path d="M834.2 1037.6 L809.3 1056.3 L778.2 1078.1 L753.3 1107.1" fill="none" stroke="#3a80ff" stroke-opacity="0.45" stroke-width="3.7" stroke-linecap="round" stroke-linejoin="round" filter="url(#blur2)"/>
</g>
<line x1="399.5" y1="485.0" x2="399.5" y2="1539.7" stroke="#808080" stroke-opacity="0.6" stroke-width="1.2" stroke-dasharray="3.7 1.8"/>
<line x1="580.3" y1="485.0" x2="580.3" y2="1539.7" stroke="#808080" stroke-opacity="0.6" stroke-width="1.2" stroke-dasharray="3.7 1.8"/>
<line x1="761.1" y1="485.0" x2="761.1" y2="1539.7" stroke="#808080" stroke-opacity="0.6" stroke-width="1.2" stroke-dasharray="3.7 1.8"/>
<line x1="942.0" y1="485.0" x2="942.0" y2="1539.7" stroke="#808080" stroke-opacity="0.6" stroke-width="1.2" stroke-dasharray="3.7 1.8"/>
<line x1="1122.8" y1="485.0" x2="1122.8" y2="1539.7" stroke="#808080" stroke-opacity="0.6" stroke-width="1.2" stroke-dasharray="3.7 1.8"/>
<line x1="1303.7" y1="485.0" x2="1303.7" y2="1539.7" stroke="#808080" stroke-opacity="0.6" stroke-width="1.2" stroke-dasharray="3.7 1.8"/>
<line x1="1484.5" y1="485.0" x2="1484.5" y2="1539.7" stroke="#808080" stroke-opacity="0.6" stroke-width="1.2" stroke-dasharray="3.7 1.8"/>
<line x1="251.0" y1="1379.5" x2="1607.0" y2="1379.5" stroke="#808080" stroke-opacity="0.6" stroke-width="1.2" stroke-dasharray="3.7 1.8"/>
<line x1="251.0" y1="1198.7" x2="1607.0" y2="1198.7" stroke="#808080" stroke-opacity="0.6" stroke-width="1.2" stroke-dasharray="3.7 1.8"/>
<line x1="251.0" y1="1018.0" x2="1607.0" y2="1018.0" stroke="#808080" stroke-opacity="0.6" stroke-width="1.2" stroke-dasharray="3.7 1.8"/>
<line x1="251.0" y1="837.2" x2="1607.0" y2="837.2" stroke="#808080" stroke-opacity="0.6" stroke-width="1.2" stroke-dasharray="3.7 1.8"/>
<line x1="251.0" y1="656.4" x2="1607.0" y2="656.4" stroke="#808080" stroke-opacity="0.6" stroke-width="1.2" stroke-dasharray="3.7 1.8"/>
<line x1="928.8" y1="485.0" x2="928.8" y2="1539.7" stroke="#ff0000" stroke-width="2"/>
<line x1="251.0" y1="1013.0" x2="1607.0" y2="1013.0" stroke="#ff0000" stroke-width="2"/>
<text x="263.9" y="509.9" font-size="16.5" text-anchor="start" fill="#ffffff" textLength="308.0" lengthAdjust="spacingAndGlyphs" >FLEXPART-WRF at MIM (LMU Munich)</text>
<text x="263.9" y="527.4" font-size="16.5" text-anchor="start" fill="#ffffff" textLength="204.0" lengthAdjust="spacingAndGlyphs" >christoph.knote@lmu.de</text>
<text x="263.9" y="544.8" font-size="16.5" text-anchor="start" fill="#ffffff" textLength="96.5" lengthAdjust="spacingAndGlyphs" >2019-08-15</text>
<text x="1575.9" y="1502.2" font-size="44.2" text-anchor="end" fill="#000" textLength="473.0" lengthAdjust="spacingAndGlyphs" >2019-08-13 06:00 UTC</text>
</g>
<rect x="251.0" y="485.0" width="1356.0" height="1054.7" fill="none" stroke="#000" stroke-width="4"/>
<text x="228.0" y="1391.8" font-size="35.3" text-anchor="end" fill="#000" textLength="38.1" lengthAdjust="spacingAndGlyphs" >36</text>
<text x="228.0" y="1211.0" font-size="35.3" text-anchor="end" fill="#000" textLength="38.1" lengthAdjust="spacingAndGlyphs" >42</text>
<text x="228.0" y="1030.3" font-size="35.3" text-anchor="end" fill="#000" textLength="38.1" lengthAdjust="spacingAndGlyphs" >48</text>
<text x="228.0" y="849.5" font-size="35.3" text-anchor="end" fill="#000" textLength="38.1" lengthAdjust="spacingAndGlyphs" >54</text>
<text x="228.0" y="668.7" font-size="35.3" text-anchor="end" fill="#000" textLength="38.1" lengthAdjust="spacingAndGlyphs" >60</text>
<text x="399.5" y="1588.0" font-size="35.3" text-anchor="middle" fill="#000" textLength="43.4" lengthAdjust="spacingAndGlyphs" >−6</text>
<text x="580.3" y="1588.0" font-size="35.3" text-anchor="middle" fill="#000" textLength="18.6" lengthAdjust="spacingAndGlyphs" >0</text>
<text x="761.1" y="1588.0" font-size="35.3" text-anchor="middle" fill="#000" textLength="18.6" lengthAdjust="spacingAndGlyphs" >6</text>
<text x="942.0" y="1588.0" font-size="35.3" text-anchor="middle" fill="#000" textLength="39.7" lengthAdjust="spacingAndGlyphs" >12</text>
<text x="1122.8" y="1588.0" font-size="35.3" text-anchor="middle" fill="#000" textLength="39.7" lengthAdjust="spacingAndGlyphs" >18</text>
<text x="1303.7" y="1588.0" font-size="35.3" text-anchor="middle" fill="#000" textLength="39.7" lengthAdjust="spacingAndGlyphs" >24</text>
<text x="1484.5" y="1588.0" font-size="35.3" text-anchor="middle" fill="#000" textLength="39.7" lengthAdjust="spacingAndGlyphs" >30</text>
<path d="M1853.9 503.6 C1854.4 503.9 1856.0 503.1 1857.0 505.1 C1858.0 507.2 1858.7 512.1 1860.1 515.9 C1861.5 519.7 1865.0 524.6 1865.4 527.7 C1865.8 530.8 1862.2 532.1 1862.3 534.5 C1862.4 536.9 1864.1 539.9 1866.3 542.2 C1868.5 544.5 1872.2 546.1 1875.6 548.4 C1878.9 550.7 1882.8 552.2 1886.4 556.1 C1890.0 560.0 1894.6 566.4 1897.2 571.6 C1899.8 576.8 1901.9 582.5 1901.9 587.1 C1901.9 591.7 1899.0 595.8 1897.2 599.4 C1895.4 603.0 1893.6 605.9 1891.0 608.7 C1888.4 611.5 1884.4 613.8 1881.8 616.4 C1879.2 619.0 1877.4 621.6 1875.6 624.2 C1873.8 626.8 1871.4 629.3 1870.9 631.9 C1870.4 634.5 1873.1 637.0 1872.5 639.6 C1871.9 642.2 1868.4 644.3 1867.2 647.4 C1866.0 650.5 1866.1 653.3 1865.4 658.2 C1864.7 663.1 1863.9 671.6 1863.2 676.8 C1862.5 681.9 1862.2 684.2 1861.0 689.1 C1859.8 694.0 1857.3 703.0 1856.1 706.1 C1854.9 709.2 1854.3 707.4 1853.9 707.7 L1853.2 707.7 L1853.2 503.6 Z" fill="#000"/>
<path d="M1853.9 840.7 C1854.1 840.7 1854.3 834.5 1854.8 840.7 C1855.3 846.9 1856.3 868.5 1857.0 877.8 C1857.7 887.1 1858.2 891.1 1859.2 896.3 C1860.2 901.4 1862.0 904.6 1863.2 908.7 C1864.4 912.8 1865.0 917.5 1866.3 921.1 C1867.6 924.7 1869.4 927.8 1870.9 930.4 C1872.5 933.0 1873.6 934.5 1875.6 936.5 C1877.6 938.5 1882.0 939.1 1882.7 942.7 C1883.4 946.3 1880.0 952.0 1879.6 958.2 C1879.2 964.4 1880.7 974.1 1880.2 979.8 C1879.7 985.5 1877.3 988.8 1876.5 992.2 C1875.7 995.6 1875.0 998.2 1875.3 1000.0 C1875.6 1001.8 1877.2 1001.3 1878.6 1003.2 C1879.9 1005.1 1881.5 1008.8 1883.4 1011.2 C1885.3 1013.6 1887.1 1015.6 1889.8 1017.7 C1892.5 1019.9 1894.9 1022.2 1899.4 1024.1 C1904.0 1026.0 1912.5 1027.6 1917.1 1028.9 C1921.6 1030.2 1924.0 1030.2 1926.7 1032.1 C1929.4 1034.0 1930.0 1038.3 1933.2 1040.2 C1936.4 1042.1 1942.2 1042.1 1946.0 1043.4 C1949.8 1044.7 1955.7 1046.6 1955.7 1048.2 C1955.7 1049.8 1949.5 1051.1 1946.0 1053.0 C1942.5 1054.9 1935.6 1056.7 1934.8 1059.4 C1934.0 1062.1 1942.5 1066.7 1941.2 1069.1 C1939.9 1071.5 1932.9 1072.3 1926.7 1073.9 C1920.5 1075.5 1912.9 1077.0 1904.3 1078.7 C1895.7 1080.4 1882.5 1082.6 1875.3 1084.2 C1868.1 1085.8 1864.1 1086.9 1860.9 1088.4 C1857.7 1089.9 1857.2 1091.9 1856.1 1093.2 C1855.0 1094.5 1854.8 1095.9 1854.5 1096.4 L1853.2 1096.4 L1853.2 840.7 Z" fill="#000"/>
<path d="M1854.5 1120.5 C1855.3 1121.0 1856.4 1122.4 1859.3 1123.7 C1862.2 1125.0 1868.1 1126.0 1872.1 1128.5 C1876.1 1131.0 1882.6 1135.6 1883.4 1138.8 C1884.2 1142.0 1879.1 1144.4 1876.9 1147.8 C1874.8 1151.2 1870.5 1154.5 1870.5 1159.0 C1870.5 1163.5 1877.7 1171.6 1876.9 1175.1 C1876.1 1178.6 1868.9 1178.0 1865.7 1179.9 C1862.5 1181.8 1859.6 1184.7 1857.7 1186.3 C1855.8 1187.9 1855.0 1189.0 1854.5 1189.6 L1853.2 1189.6 L1853.2 1120.5 Z" fill="#000"/>
<path d="M1854.5 1475.5 C1855.0 1478.2 1855.8 1487.6 1857.7 1491.6 C1859.6 1495.6 1862.8 1497.7 1865.7 1499.6 C1868.6 1501.5 1872.1 1501.5 1875.3 1502.8 C1878.5 1504.1 1883.7 1503.6 1885.0 1507.6 C1886.3 1511.6 1883.4 1521.5 1883.4 1526.9 C1883.4 1532.3 1889.8 1537.7 1885.0 1539.8 C1880.2 1541.9 1859.6 1539.8 1854.5 1539.8 L1853.2 1539.8 L1853.2 1475.5 Z" fill="#000"/>
<rect x="1882.5" y="1008.3" width="10" height="3.2" fill="#990000"/>
<rect x="1892.5" y="1008.6" width="12" height="3.2" fill="#cc7777" fill-opacity="0.8"/>
<line x1="1875.5" y1="485.3" x2="1875.5" y2="1540.1" stroke="#808080" stroke-width="1.3" stroke-dasharray="3.7 1.8"/>
<line x1="1875.5" y1="470.3" x2="1875.5" y2="485.3" stroke="#808080" stroke-width="3"/>
<text x="1875.5" y="449.9" font-size="35.3" text-anchor="middle" fill="#808080" textLength="18.6" lengthAdjust="spacingAndGlyphs" >0</text>
<line x1="2071.6" y1="485.3" x2="2071.6" y2="1540.1" stroke="#808080" stroke-width="1.3" stroke-dasharray="3.7 1.8"/>
<line x1="2071.6" y1="470.3" x2="2071.6" y2="485.3" stroke="#808080" stroke-width="3"/>
<text x="2071.6" y="449.9" font-size="35.3" text-anchor="middle" fill="#808080" textLength="39.8" lengthAdjust="spacingAndGlyphs" >50</text>
<line x1="2268.3" y1="485.3" x2="2268.3" y2="1540.1" stroke="#808080" stroke-width="1.3" stroke-dasharray="3.7 1.8"/>
<line x1="2268.3" y1="470.3" x2="2268.3" y2="485.3" stroke="#808080" stroke-width="3"/>
<text x="2268.3" y="449.9" font-size="35.3" text-anchor="middle" fill="#808080" textLength="61.0" lengthAdjust="spacingAndGlyphs" >100</text>
<line x1="1839.2" y1="1409.7" x2="1854.2" y2="1409.7" stroke="#000" stroke-width="3"/>
<text x="1822.3" y="1422.0" font-size="35.3" text-anchor="end" fill="#000" textLength="38.1" lengthAdjust="spacingAndGlyphs" >35</text>
<line x1="1839.2" y1="1259.0" x2="1854.2" y2="1259.0" stroke="#000" stroke-width="3"/>
<text x="1822.3" y="1271.3" font-size="35.3" text-anchor="end" fill="#000" textLength="38.1" lengthAdjust="spacingAndGlyphs" >40</text>
<line x1="1839.2" y1="1108.3" x2="1854.2" y2="1108.3" stroke="#000" stroke-width="3"/>
<text x="1822.3" y="1120.6" font-size="35.3" text-anchor="end" fill="#000" textLength="38.1" lengthAdjust="spacingAndGlyphs" >45</text>
<line x1="1839.2" y1="957.7" x2="1854.2" y2="957.7" stroke="#000" stroke-width="3"/>
<text x="1822.3" y="970.0" font-size="35.3" text-anchor="end" fill="#000" textLength="38.1" lengthAdjust="spacingAndGlyphs" >50</text>
<line x1="1839.2" y1="807.0" x2="1854.2" y2="807.0" stroke="#000" stroke-width="3"/>
<text x="1822.3" y="819.3" font-size="35.3" text-anchor="end" fill="#000" textLength="38.1" lengthAdjust="spacingAndGlyphs" >55</text>
<line x1="1839.2" y1="656.4" x2="1854.2" y2="656.4" stroke="#000" stroke-width="3"/>
<text x="1822.3" y="668.7" font-size="35.3" text-anchor="end" fill="#000" textLength="38.1" lengthAdjust="spacingAndGlyphs" >60</text>
<line x1="1839.2" y1="505.8" x2="1854.2" y2="505.8" stroke="#000" stroke-width="3"/>
<text x="1822.3" y="518.0" font-size="35.3" text-anchor="end" fill="#000" textLength="38.1" lengthAdjust="spacingAndGlyphs" >65</text>
<line x1="1854.2" y1="1540.1" x2="1854.2" y2="1555.1" stroke="#000" stroke-width="3"/>
<text x="0" y="0" font-size="35.3" fill="#000" textLength="18.6" lengthAdjust="spacingAndGlyphs" transform="translate(1842.5 1586.3) rotate(45)">0</text>
<line x1="1962.2" y1="1540.1" x2="1962.2" y2="1555.1" stroke="#000" stroke-width="3"/>
<text x="0" y="0" font-size="35.3" fill="#000" textLength="82.2" lengthAdjust="spacingAndGlyphs" transform="translate(1928.0 1586.3) rotate(45)">2000</text>
<line x1="2070.2" y1="1540.1" x2="2070.2" y2="1555.1" stroke="#000" stroke-width="3"/>
<text x="0" y="0" font-size="35.3" fill="#000" textLength="82.2" lengthAdjust="spacingAndGlyphs" transform="translate(2036.0 1586.3) rotate(45)">4000</text>
<line x1="2178.3" y1="1540.1" x2="2178.3" y2="1555.1" stroke="#000" stroke-width="3"/>
<text x="0" y="0" font-size="35.3" fill="#000" textLength="82.2" lengthAdjust="spacingAndGlyphs" transform="translate(2144.1 1586.3) rotate(45)">6000</text>
<line x1="2286.3" y1="1540.1" x2="2286.3" y2="1555.1" stroke="#000" stroke-width="3"/>
<text x="0" y="0" font-size="35.3" fill="#000" textLength="82.2" lengthAdjust="spacingAndGlyphs" transform="translate(2252.1 1586.3) rotate(45)">8000</text>
<rect x="1854.2" y="485.3" width="432.1" height="1054.8" fill="none" stroke="#000" stroke-width="3"/>
<text x="2070.3" y="1695.8" font-size="35.3" text-anchor="middle" fill="#000" textLength="269.0" lengthAdjust="spacingAndGlyphs" >altitude (m ASL)</text>
<text x="2329.4" y="983.7" font-size="35.3" text-anchor="middle" fill="#000" textLength="503.0" lengthAdjust="spacingAndGlyphs" transform="rotate(-90 2329.4 983.7)" >Latitudinal curtain residence time</text>
<rect x="194.60" y="1635.2" width="21.01" height="62.2" fill="#800000"/>
<rect x="215.01" y="1635.2" width="21.01" height="62.2" fill="#900000"/>
<rect x="235.43" y="1635.2" width="21.01" height="62.2" fill="#a00000"/>
<rect x="255.84" y="1635.2" width="21.01" height="62.2" fill="#b00000"/>
<rect x="276.25" y="1635.2" width="21.01" height="62.2" fill="#c10000"/>
<rect x="296.66" y="1635.2" width="21.01" height="62.2" fill="#d10000"/>
<rect x="317.07" y="1635.2" width="21.01" height="62.2" fill="#e10000"/>
<rect x="337.49" y="1635.2" width="21.01" height="62.2" fill="#f20800"/>
<rect x="357.90" y="1635.2" width="21.01" height="62.2" fill="#ff1500"/>
<rect x="378.31" y="1635.2" width="21.01" height="62.2" fill="#ff2300"/>
<rect x="398.73" y="1635.2" width="21.01" height="62.2" fill="#ff3000"/>
<rect x="419.14" y="1635.2" width="21.01" height="62.2" fill="#ff3d00"/>
<rect x="439.55" y="1635.2" width="21.01" height="62.2" fill="#ff4b00"/>
<rect x="459.96" y="1635.2" width="21.01" height="62.2" fill="#ff5800"/>
<rect x="480.38" y="1635.2" width="21.01" height="62.2" fill="#ff6500"/>
<rect x="500.79" y="1635.2" width="21.01" height="62.2" fill="#ff7300"/>
<rect x="521.20" y="1635.2" width="21.01" height="62.2" fill="#ff8000"/>
<rect x="541.61" y="1635.2" width="21.01" height="62.2" fill="#ff8d00"/>
<rect x="562.02" y="1635.2" width="21.01" height="62.2" fill="#ff9a00"/>
<rect x="582.44" y="1635.2" width="21.01" height="62.2" fill="#ffa800"/>
<rect x="602.85" y="1635.2" width="21.01" height="62.2" fill="#ffb500"/>
<rect x="623.26" y="1635.2" width="21.01" height="62.2" fill="#ffc200"/>
<rect x="643.68" y="1635.2" width="21.01" height="62.2" fill="#ffd000"/>
<rect x="664.09" y="1635.2" width="21.01" height="62.2" fill="#ffdd00"/>
<rect x="684.50" y="1635.2" width="21.01" height="62.2" fill="#ffea00"/>
<rect x="704.91" y="1635.2" width="21.01" height="62.2" fill="#f5f802"/>
<rect x="725.33" y="1635.2" width="21.01" height="62.2" fill="#e9ff0d"/>
<rect x="745.74" y="1635.2" width="21.01" height="62.2" fill="#deff19"/>
<rect x="766.15" y="1635.2" width="21.01" height="62.2" fill="#d2ff24"/>
<rect x="786.56" y="1635.2" width="21.01" height="62.2" fill="#c7ff30"/>
<rect x="806.98" y="1635.2" width="21.01" height="62.2" fill="#bbff3c"/>
<rect x="827.39" y="1635.2" width="21.01" height="62.2" fill="#b0ff47"/>
<rect x="847.80" y="1635.2" width="21.01" height="62.2" fill="#a4ff53"/>
<rect x="868.21" y="1635.2" width="21.01" height="62.2" fill="#98ff5e"/>
<rect x="888.63" y="1635.2" width="21.01" height="62.2" fill="#8dff6a"/>
<rect x="909.04" y="1635.2" width="21.01" height="62.2" fill="#81ff76"/>
<rect x="929.45" y="1635.2" width="21.01" height="62.2" fill="#76ff81"/>
<rect x="949.86" y="1635.2" width="21.01" height="62.2" fill="#6aff8d"/>
<rect x="970.28" y="1635.2" width="21.01" height="62.2" fill="#5eff98"/>
<rect x="990.69" y="1635.2" width="21.01" height="62.2" fill="#53ffa4"/>
<rect x="1011.10" y="1635.2" width="21.01" height="62.2" fill="#47ffb0"/>
<rect x="1031.51" y="1635.2" width="21.01" height="62.2" fill="#3cffbb"/>
<rect x="1051.92" y="1635.2" width="21.01" height="62.2" fill="#30ffc7"/>
<rect x="1072.34" y="1635.2" width="21.01" height="62.2" fill="#24ffd2"/>
<rect x="1092.75" y="1635.2" width="21.01" height="62.2" fill="#19ffde"/>
<rect x="1113.16" y="1635.2" width="21.01" height="62.2" fill="#0df6e9"/>
<rect x="1133.58" y="1635.2" width="21.01" height="62.2" fill="#02e8f5"/>
<rect x="1153.99" y="1635.2" width="21.01" height="62.2" fill="#00d9ff"/>
<rect x="1174.40" y="1635.2" width="21.01" height="62.2" fill="#00cbff"/>
<rect x="1194.81" y="1635.2" width="21.01" height="62.2" fill="#00bdff"/>
<rect x="1215.23" y="1635.2" width="21.01" height="62.2" fill="#00aeff"/>
<rect x="1235.64" y="1635.2" width="21.01" height="62.2" fill="#00a0ff"/>
<rect x="1256.05" y="1635.2" width="21.01" height="62.2" fill="#0091ff"/>
<rect x="1276.46" y="1635.2" width="21.01" height="62.2" fill="#0083ff"/>
<rect x="1296.88" y="1635.2" width="21.01" height="62.2" fill="#0075ff"/>
<rect x="1317.29" y="1635.2" width="21.01" height="62.2" fill="#0066ff"/>
<rect x="1337.70" y="1635.2" width="21.01" height="62.2" fill="#0058ff"/>
<rect x="1358.11" y="1635.2" width="21.01" height="62.2" fill="#004aff"/>
<rect x="1378.53" y="1635.2" width="21.01" height="62.2" fill="#003bff"/>
<rect x="1398.94" y="1635.2" width="21.01" height="62.2" fill="#002dff"/>
<rect x="1419.35" y="1635.2" width="21.01" height="62.2" fill="#001fff"/>
<rect x="1439.76" y="1635.2" width="21.01" height="62.2" fill="#0010ff"/>
<rect x="1460.17" y="1635.2" width="21.01" height="62.2" fill="#0002ff"/>
<rect x="1480.59" y="1635.2" width="21.01" height="62.2" fill="#0000ff"/>
<rect x="1501.00" y="1635.2" width="21.01" height="62.2" fill="#0000f2"/>
<rect x="1521.41" y="1635.2" width="21.01" height="62.2" fill="#0000e1"/>
<rect x="1541.83" y="1635.2" width="21.01" height="62.2" fill="#0000d1"/>
<rect x="1562.24" y="1635.2" width="21.01" height="62.2" fill="#0000c1"/>
<rect x="1582.65" y="1635.2" width="21.01" height="62.2" fill="#0000b0"/>
<rect x="1603.06" y="1635.2" width="21.01" height="62.2" fill="#0000a0"/>
<rect x="1623.47" y="1635.2" width="21.01" height="62.2" fill="#000090"/>
<rect x="1643.89" y="1635.2" width="21.01" height="62.2" fill="#000080"/>
<rect x="194.6" y="1635.2" width="1469.7" height="62.2" fill="none" stroke="#000" stroke-width="3"/>
<line x1="194.6" y1="1697.4" x2="194.6" y2="1712.4" stroke="#000" stroke-width="3"/>
<text x="194.6" y="1752.0" font-size="35.3" text-anchor="middle" fill="#000" textLength="18.6" lengthAdjust="spacingAndGlyphs" >0</text>
<line x1="357.9" y1="1697.4" x2="357.9" y2="1712.4" stroke="#000" stroke-width="3"/>
<text x="357.9" y="1752.0" font-size="35.3" text-anchor="middle" fill="#000" textLength="18.6" lengthAdjust="spacingAndGlyphs" >8</text>
<line x1="521.2" y1="1697.4" x2="521.2" y2="1712.4" stroke="#000" stroke-width="3"/>
<text x="521.2" y="1752.0" font-size="35.3" text-anchor="middle" fill="#000" textLength="39.8" lengthAdjust="spacingAndGlyphs" >16</text>
<line x1="684.5" y1="1697.4" x2="684.5" y2="1712.4" stroke="#000" stroke-width="3"/>
<text x="684.5" y="1752.0" font-size="35.3" text-anchor="middle" fill="#000" textLength="39.8" lengthAdjust="spacingAndGlyphs" >24</text>
<line x1="847.8" y1="1697.4" x2="847.8" y2="1712.4" stroke="#000" stroke-width="3"/>
<text x="847.8" y="1752.0" font-size="35.3" text-anchor="middle" fill="#000" textLength="39.8" lengthAdjust="spacingAndGlyphs" >32</text>
<line x1="1011.1" y1="1697.4" x2="1011.1" y2="1712.4" stroke="#000" stroke-width="3"/>
<text x="1011.1" y="1752.0" font-size="35.3" text-anchor="middle" fill="#000" textLength="39.8" lengthAdjust="spacingAndGlyphs" >40</text>
<line x1="1174.4" y1="1697.4" x2="1174.4" y2="1712.4" stroke="#000" stroke-width="3"/>
<text x="1174.4" y="1752.0" font-size="35.3" text-anchor="middle" fill="#000" textLength="39.8" lengthAdjust="spacingAndGlyphs" >48</text>
<line x1="1337.7" y1="1697.4" x2="1337.7" y2="1712.4" stroke="#000" stroke-width="3"/>
<text x="1337.7" y="1752.0" font-size="35.3" text-anchor="middle" fill="#000" textLength="39.8" lengthAdjust="spacingAndGlyphs" >56</text>
<line x1="1501.0" y1="1697.4" x2="1501.0" y2="1712.4" stroke="#000" stroke-width="3"/>
<text x="1501.0" y="1752.0" font-size="35.3" text-anchor="middle" fill="#000" textLength="39.8" lengthAdjust="spacingAndGlyphs" >64</text>
<line x1="1664.3" y1="1697.4" x2="1664.3" y2="1712.4" stroke="#000" stroke-width="3"/>
<text x="1664.3" y="1752.0" font-size="35.3" text-anchor="middle" fill="#000" textLength="39.8" lengthAdjust="spacingAndGlyphs" >72</text>
<text x="928.9" y="1802.6" font-size="35.3" text-anchor="middle" fill="#000" textLength="533.5" lengthAdjust="spacingAndGlyphs" >time since arrival at location [h]</text>
</svg></body></html>
